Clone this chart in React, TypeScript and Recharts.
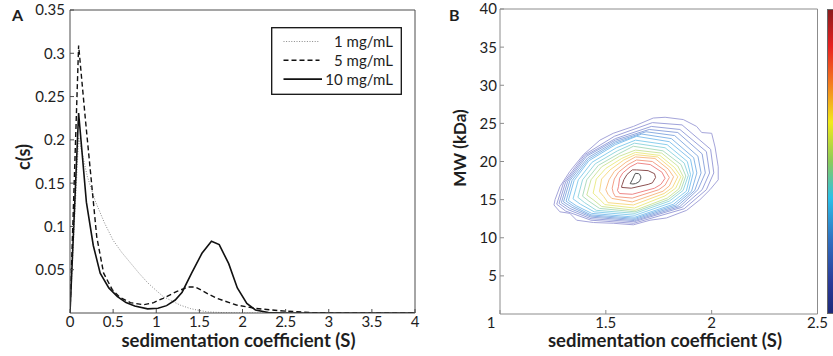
import React from "react";
import { LineChart, Line, XAxis, YAxis, Legend } from "recharts";

const FONT = "Lato, 'Open Sans', sans-serif";
const AXIS_A = "#4d4d4d";
const AXIS_B = "#8c8c8c";
const TEXT = "#1e1e1e";
const TICK_LEN = 4;

// ---- panel A: c(s) distributions ----
const xTicksA = [0, 0.5, 1, 1.5, 2, 2.5, 3, 3.5, 4];
const yTicksA = [0.05, 0.1, 0.15, 0.2, 0.25, 0.3, 0.35];
const seriesNames = ["1 mg/mL", "5 mg/mL", "10 mg/mL"];

const s1 = [0, 0.1, 0.2, 0.29, 0.4, 0.5, 0.6, 0.7, 0.8, 0.9, 1.0, 1.08, 1.2, 1.28, 1.4, 1.47, 1.6, 1.8, 2.0, 4];
const c1 = [0, 0.203, 0.158, 0.13, 0.104, 0.084, 0.07, 0.058, 0.046, 0.035, 0.026, 0.019, 0.013, 0.009, 0.005, 0.0035, 0.0012, 0.0004, 0, 0];

const s5 = [0, 0.1, 0.18, 0.25, 0.31, 0.39, 0.49, 0.58, 0.7, 0.85, 0.97, 1.08, 1.24, 1.37, 1.45, 1.52, 1.6, 1.7, 1.93, 2.16, 2.43, 2.78, 3.1, 4];
const c5 = [0, 0.309, 0.222, 0.15, 0.088, 0.046, 0.027, 0.018, 0.012, 0.0095, 0.012, 0.017, 0.025, 0.03, 0.03, 0.0265, 0.022, 0.017, 0.0092, 0.0052, 0.0026, 0.0005, 0, 0];

const s10 = [0, 0.1, 0.19, 0.27, 0.35, 0.45, 0.55, 0.65, 0.75, 0.9, 1.02, 1.12, 1.22, 1.3, 1.41, 1.53, 1.64, 1.73, 1.84, 1.94, 2.05, 2.15, 2.3, 2.5, 4];
const c10 = [0, 0.231, 0.128, 0.078, 0.046, 0.029, 0.019, 0.012, 0.008, 0.0048, 0.0055, 0.0085, 0.015, 0.024, 0.046, 0.069, 0.083, 0.079, 0.057, 0.029, 0.011, 0.0035, 0.0005, 0, 0];

// ---- panel B: 2D size-shape contour ----
const xTicksB = [1, 1.5, 2, 2.5];
const yTicksB = [5, 10, 15, 20, 25, 30, 35, 40];

const ring01 = [[1.255,14.3],[1.26,15.0],[1.283,16.7],[1.33,18.7],[1.394,20.9],[1.472,22.8],[1.535,23.7],[1.63,24.6],[1.724,25.7],[1.78,25.8],[1.866,25.5],[1.929,24.6],[1.953,23.8],[2.0,23.7],[2.016,21.9],[2.031,19.3],[2.031,17.6],[1.992,16.3],[1.945,15.0],[1.882,13.6],[1.787,12.6],[1.709,12.3],[1.63,11.7],[1.535,11.9],[1.441,12.0],[1.362,12.3],[1.33,13.2],[1.283,13.4],[1.255,14.3]];
const ring02 = [[1.268,14.4],[1.3,17.2],[1.4,20.9],[1.54,23.3],[1.72,25.1],[1.86,24.8],[1.995,21.6],[2.01,18.5],[1.975,16.3],[1.87,13.8],[1.632,11.9],[1.43,12.3],[1.31,13.5],[1.268,14.4]];
const ring03 = [[1.279,14.5],[1.31,17.3],[1.405,20.8],[1.545,23.0],[1.715,24.6],[1.85,24.2],[1.975,21.3],[1.99,18.5],[1.955,16.3],[1.86,14.0],[1.634,12.1],[1.43,12.5],[1.32,13.7],[1.279,14.5]];
const ring04 = [[1.29,14.6],[1.32,17.4],[1.41,20.7],[1.545,22.8],[1.705,24.2],[1.84,23.8],[1.955,21.0],[1.97,18.5],[1.935,16.3],[1.85,14.1],[1.636,12.25],[1.43,12.7],[1.33,13.85],[1.29,14.6]];
const ring05 = [[1.3,14.7],[1.33,17.5],[1.415,20.5],[1.545,22.6],[1.69,23.9],[1.825,23.4],[1.935,20.7],[1.95,18.5],[1.92,16.2],[1.84,14.2],[1.637,12.4],[1.43,12.85],[1.34,14.0],[1.3,14.7]];
const ring06 = [[1.312,14.8],[1.34,17.5],[1.418,20.3],[1.545,22.4],[1.67,23.6],[1.81,23.0],[1.915,20.5],[1.93,18.5],[1.905,16.1],[1.83,14.3],[1.638,12.55],[1.43,13.0],[1.35,14.1],[1.312,14.8]];
const ring07 = [[1.323,14.9],[1.35,17.5],[1.42,20.1],[1.545,22.2],[1.645,23.3],[1.8,22.6],[1.9,20.3],[1.913,18.5],[1.89,16.0],[1.82,14.4],[1.638,12.7],[1.433,13.2],[1.36,14.2],[1.323,14.9]];
const ring08 = [[1.345,15.1],[1.37,17.6],[1.435,19.9],[1.55,21.8],[1.64,22.8],[1.79,22.2],[1.885,20.0],[1.9,18.3],[1.88,16.1],[1.81,14.6],[1.638,12.95],[1.445,13.4],[1.38,14.4],[1.345,15.1]];
const ring09 = [[1.368,15.3],[1.39,17.6],[1.45,19.7],[1.555,21.4],[1.635,22.4],[1.78,21.8],[1.87,19.8],[1.89,18.2],[1.865,16.2],[1.8,14.8],[1.638,13.2],[1.455,13.6],[1.4,14.6],[1.368,15.3]];
const ring10 = [[1.39,15.45],[1.41,17.6],[1.465,19.5],[1.56,21.0],[1.63,22.0],[1.77,21.4],[1.855,19.6],[1.878,18.1],[1.855,16.3],[1.795,15.0],[1.638,13.4],[1.47,13.85],[1.42,14.8],[1.39,15.45]];
const ring11 = [[1.41,15.6],[1.43,17.6],[1.48,19.3],[1.565,20.7],[1.64,21.5],[1.764,21.1],[1.84,19.4],[1.866,18.0],[1.845,16.4],[1.79,15.2],[1.638,13.6],[1.48,14.1],[1.44,15.0],[1.41,15.6]];
const ring12 = [[1.44,15.85],[1.455,17.7],[1.5,19.1],[1.575,20.4],[1.64,21.2],[1.755,20.8],[1.825,19.2],[1.855,18.0],[1.83,16.5],[1.78,15.5],[1.635,13.9],[1.495,14.35],[1.465,15.2],[1.44,15.85]];
const ring13 = [[1.47,16.05],[1.48,17.7],[1.52,18.9],[1.585,20.2],[1.64,20.9],[1.745,20.6],[1.81,19.1],[1.84,18.0],[1.815,16.6],[1.775,15.8],[1.63,14.3],[1.51,14.6],[1.49,15.4],[1.47,16.05]];
const ring14 = [[1.5,16.3],[1.515,17.6],[1.54,18.7],[1.595,19.9],[1.64,20.6],[1.732,20.4],[1.795,19.0],[1.82,18.0],[1.8,16.8],[1.77,16.1],[1.625,14.7],[1.528,15.16],[1.51,15.7],[1.5,16.3]];
const ring15 = [[1.53,16.5],[1.54,17.7],[1.56,18.6],[1.605,19.6],[1.645,20.2],[1.72,20.0],[1.78,18.8],[1.8,17.9],[1.78,16.9],[1.75,16.3],[1.625,15.2],[1.545,15.4],[1.535,15.9],[1.53,16.5]];
const ring16 = [[1.56,16.75],[1.565,17.8],[1.58,18.5],[1.615,19.3],[1.65,19.8],[1.71,19.6],[1.765,18.6],[1.78,17.8],[1.76,17.0],[1.73,16.5],[1.625,15.7],[1.565,15.8],[1.555,16.2],[1.56,16.75]];
const ring17 = [[1.578,17.0],[1.585,17.6],[1.6,18.3],[1.625,18.9],[1.645,18.9],[1.7,18.8],[1.73,18.4],[1.735,17.9],[1.72,17.2],[1.7,17.0],[1.62,16.5],[1.575,16.6],[1.575,16.8],[1.578,17.0]];
const ring18 = [[1.615,17.1],[1.625,17.6],[1.635,18.2],[1.64,18.45],[1.655,18.4],[1.66,18.3],[1.665,18.0],[1.665,17.8],[1.66,17.5],[1.655,17.3],[1.64,17.1],[1.628,17.05],[1.62,17.08],[1.615,17.1]];

const rings = [ring01, ring02, ring03, ring04, ring05, ring06, ring07, ring08, ring09, ring10, ring11, ring12, ring13, ring14, ring15, ring16, ring17, ring18];
const ringColors = ["#a5a5da", "#9fa2da", "#9aa4dc", "#93a8de", "#8cafe2", "#88b8e8", "#88c4ee", "#8ccfee", "#98d8e0", "#b0ddc0", "#cfe6a0", "#ecec8c", "#f8dc88", "#f8bc88", "#f4a088", "#ee8686", "#8c5050", "#505050"];

const toPoints = (xs: number[], ys: number[]) => xs.map((s, i) => ({ s, c: ys[i] }));
const dataA = [toPoints(s1, c1), toPoints(s5, c5), toPoints(s10, c10)];
const styleA = [
  { stroke: "#8a8a8a", dash: "1 1.6", width: 1 },
  { stroke: "#111", dash: "5 3", width: 1.4 },
  { stroke: "#111", dash: undefined, width: 1.6 },
];
const ringData = rings.map((r) => r.map(([s, mw]) => ({ s, mw })));

// custom ticks: label outside, tick mark pointing into the plot
const BottomTick = (props: any) => {
  const { x, y, payload, gap, color, shift } = props;
  const axisY = y - gap;
  const dx = shift && shift[payload.value] ? shift[payload.value] : 0;
  return (
    <g>
      <line x1={x} x2={x} y1={axisY} y2={axisY - TICK_LEN} stroke={color} />
      <text x={x + dx} y={y} dy="0.71em" textAnchor="middle" fontSize={15} fontFamily={FONT} fill={TEXT}>
        {payload.value}
      </text>
    </g>
  );
};

const LeftTick = (props: any) => {
  const { x, y, payload, gap, color } = props;
  const axisX = x + gap;
  return (
    <g>
      <line x1={axisX} x2={axisX + TICK_LEN} y1={y} y2={y} stroke={color} />
      <text x={x} y={y} dy="0.36em" textAnchor="end" fontSize={15} fontFamily={FONT} fill={TEXT}>
        {payload.value}
      </text>
    </g>
  );
};

const xTitle = (cx: number) => () => (
  <text x={cx} y={347} textAnchor="middle" fontSize={18.5} fontWeight={700} fontFamily={FONT} fill={TEXT}>
    sedimentation coefficient (S)
  </text>
);

const yTitle = (letter: string, lx: number, tx: number, ty: number, title: string, size: number) => () => (
  <g fontFamily={FONT} fill={TEXT} fontWeight={700}>
    <text x={lx} y={20.5} fontSize={16}>{letter}</text>
    <text x={tx} y={ty} fontSize={size} textAnchor="middle" transform={`rotate(-90 ${tx} ${ty})`}>
      {title}
    </text>
  </g>
);

const LegendA = () => (
  <svg width={131} height={68} style={{ display: "block" }}>
    <rect x={0.7} y={0.7} width={129.6} height={66.6} fill="#fff" stroke="#111" strokeWidth={1.3} />
    {seriesNames.map((name, i) => {
      const cy = 14.5 + i * 18.8;
      return (
        <g key={name}>
          <line x1={12.5} x2={i === 2 ? 51 : 48.5} y1={cy} y2={cy} stroke={styleA[i].stroke} strokeWidth={styleA[i].width} strokeDasharray={styleA[i].dash} />
          <text x={122} y={cy} dy="0.36em" textAnchor="end" fontSize={15} fontFamily={FONT} fill={TEXT}>
            {name}
          </text>
        </g>
      );
    })}
  </svg>
);

export default function App() {
  return (
    <div style={{ position: "absolute", left: 0, top: 0, width: 833, height: 356, background: "#fff", overflow: "hidden" }}>
      <div style={{ position: "absolute", left: 0, top: 0 }}>
        <LineChart width={420} height={356} margin={{ top: 10, right: 5, bottom: 0, left: 0 }}>
          <XAxis
            xAxisId="a"
            dataKey="s"
            type="number"
            domain={[0, 4]}
            ticks={xTicksA}
            allowDataOverflow
            height={43}
            tickLine={false}
            tickSize={0}
            tickMargin={3}
            stroke={AXIS_A}
            tick={<BottomTick gap={3} color={AXIS_A} />}
            label={xTitle(238.5)}
          />
          <XAxis xAxisId="top" orientation="top" mirror type="number" domain={[0, 4]} ticks={xTicksA} allowDataOverflow tick={false} tickSize={TICK_LEN} stroke={AXIS_A} />
          <YAxis
            yAxisId="a"
            type="number"
            domain={[0, 0.35]}
            ticks={yTicksA}
            allowDataOverflow
            width={70}
            tickLine={false}
            tickSize={0}
            tickMargin={5}
            stroke={AXIS_A}
            tick={<LeftTick gap={5} color={AXIS_A} />}
            label={yTitle("A", 12, 29.5, 157, "c(s)", 18)}
          />
          <YAxis yAxisId="right" orientation="right" mirror type="number" domain={[0, 0.35]} ticks={yTicksA} allowDataOverflow tick={false} tickSize={TICK_LEN} stroke={AXIS_A} />
          {dataA.map((d, i) => (
            <Line
              key={seriesNames[i]}
              xAxisId="a"
              yAxisId="a"
              data={d}
              dataKey="c"
              name={seriesNames[i]}
              type="linear"
              stroke={styleA[i].stroke}
              strokeWidth={styleA[i].width}
              strokeDasharray={styleA[i].dash}
              dot={false}
              isAnimationActive={false}
            />
          ))}
          <Legend layout="vertical" align="center" verticalAlign="middle" content={LegendA} wrapperStyle={{ top: 27, left: 270.5, width: 131, height: 68 }} />
        </LineChart>
      </div>

      <div style={{ position: "absolute", left: 420, top: 0 }}>
        <LineChart width={413} height={356} margin={{ top: 9, right: 15.5, bottom: 0, left: 0 }}>
          <XAxis
            xAxisId="b"
            dataKey="s"
            type="number"
            domain={[1, 2.5]}
            ticks={xTicksB}
            allowDataOverflow
            height={42}
            tickLine={false}
            tickSize={0}
            tickMargin={3}
            stroke={AXIS_B}
            tick={<BottomTick gap={3} color={AXIS_B} shift={{ 1: -9 }} />}
            label={xTitle(245)}
          />
          <XAxis xAxisId="top" orientation="top" mirror type="number" domain={[1, 2.5]} ticks={xTicksB} allowDataOverflow tick={false} tickSize={TICK_LEN} stroke={AXIS_B} />
          <YAxis
            yAxisId="b"
            type="number"
            domain={[0, 40]}
            ticks={yTicksB}
            allowDataOverflow
            width={80}
            tickLine={false}
            tickSize={0}
            tickMargin={3}
            stroke={AXIS_B}
            tick={<LeftTick gap={3} color={AXIS_B} />}
            label={yTitle("B", 29, 45.5, 148, "MW (kDa)", 17)}
          />
          <YAxis yAxisId="right" orientation="right" mirror type="number" domain={[0, 40]} ticks={yTicksB} allowDataOverflow tick={false} tickSize={TICK_LEN} stroke={AXIS_B} />
          {ringData.map((d, i) => (
            <Line
              key={i}
              xAxisId="b"
              yAxisId="b"
              data={d}
              dataKey="mw"
              type="linear"
              stroke={ringColors[i]}
              strokeWidth={1}
              dot={false}
              isAnimationActive={false}
            />
          ))}
        </LineChart>
      </div>

      <div
        style={{
          position: "absolute",
          left: 827,
          top: 9,
          width: 10,
          height: 305,
          boxSizing: "border-box",
          border: "1px solid #666",
          background: "linear-gradient(to bottom, #8a1c1c 0%, #e82020 12%, #f47a20 24%, #f2ea1a 37%, #8ccb5a 50%, #2cc0e8 62%, #2f6fc0 76%, #2a3a98 90%, #1e2a7a 100%)",
        }}
      />
    </div>
  );
}
